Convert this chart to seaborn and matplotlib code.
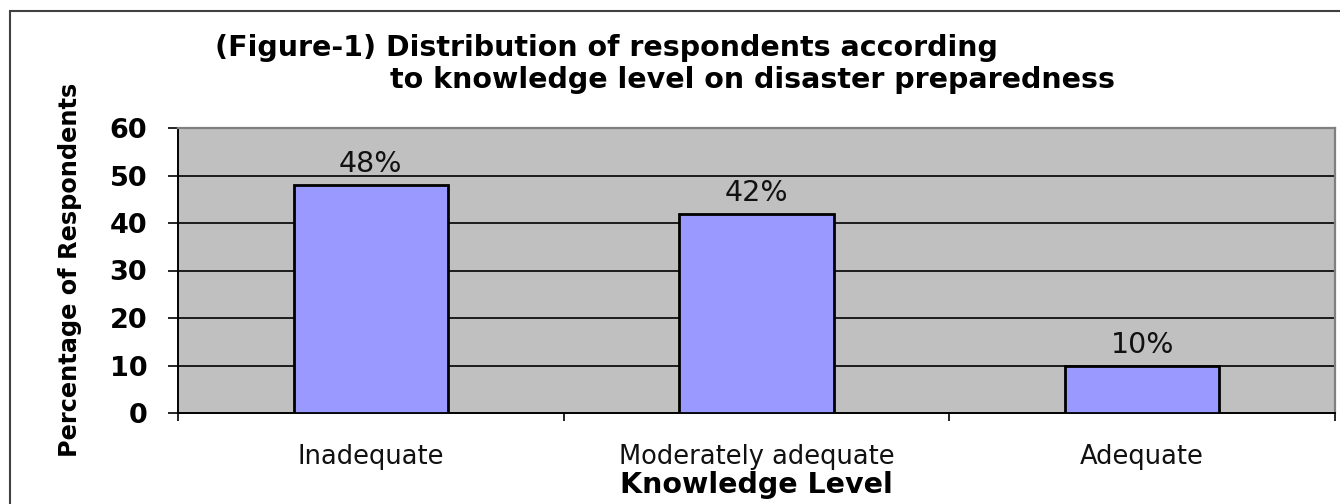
import matplotlib
matplotlib.use("Agg")
import matplotlib.pyplot as plt
import seaborn as sns
import pandas as pd
from matplotlib.patches import Rectangle

categories = ["Inadequate", "Moderately adequate", "Adequate"]
values = [48, 42, 10]
bar_labels = ["48%", "42%", "10%"]
yticks = [0, 10, 20, 30, 40, 50, 60]
title_line1 = "(Figure-1) Distribution of respondents according"
title_line2 = "to knowledge level on disaster preparedness"

sns.set_theme(style="white")
plt.rcParams['font.family'] = ['DejaVu Sans']
plt.rcParams['text.color'] = 'black'
plt.rcParams['axes.labelcolor'] = 'black'
plt.rcParams['xtick.color'] = 'black'
plt.rcParams['ytick.color'] = 'black'

W, H = 1340, 504
fig = plt.figure(figsize=(W / 100, H / 100), dpi=100)
L, R, T, B = 178, 1335, 128, 413
ax = fig.add_axes([L / W, 1 - B / H, (R - L) / W, (B - T) / H])
ax.set_facecolor('#C0C0C0')

df = pd.DataFrame({"cat": categories, "val": values})
sns.barplot(data=df, x="cat", y="val", ax=ax, width=0.4, color='#9999FF',
            edgecolor='black', linewidth=2.0, saturation=1, zorder=3)

ax.set_xlim(-0.5, 2.5)
ax.set_ylim(0, 60)
ax.set_yticks(yticks)
for y in yticks[1:-1]:
    ax.axhline(y, color='black', linewidth=1.2, zorder=1)

ax.bar_label(ax.containers[0], labels=bar_labels, padding=5, fontsize=20.5,
             color='#111111')

ax.tick_params(axis='y', which='major', direction='out', length=7.2, width=1.2,
               color='black', labelcolor='black', labelsize=19.5, pad=15, left=True)
for t in ax.get_yticklabels():
    t.set_fontweight('bold')
ax.tick_params(axis='x', which='major', length=0, labelsize=18.5, pad=22,
               labelcolor='#111111')
ax.set_xticks([-0.5, 0.5, 1.5, 2.5], minor=True)
ax.tick_params(axis='x', which='minor', direction='out', length=6, width=1.2,
               color='black', bottom=True)

for s in ['left', 'bottom']:
    ax.spines[s].set_color('black')
    ax.spines[s].set_linewidth(1.4)
for s in ['top', 'right']:
    ax.spines[s].set_color('#808080')
    ax.spines[s].set_linewidth(1.6)

ax.set_xlabel("Knowledge Level", fontsize=20.5, fontweight='bold', color='black')
ax.xaxis.label.set_va('baseline')
ax.xaxis.set_label_coords(0.5, -(493 - B) / (B - T))
ax.set_ylabel("Percentage of Respondents", fontsize=17.3, fontweight='bold',
              color='black')
ax.yaxis.label.set_va('center')
ax.yaxis.set_label_coords((70 - L) / (R - L), (B - 270) / (B - T))

fig.text(215 / W, 1 - 56 / H, title_line1, fontsize=20.5, fontweight='bold',
         ha='left', va='baseline', color='black')
fig.text(390 / W, 1 - 88 / H, title_line2, fontsize=20.5, fontweight='bold',
         ha='left', va='baseline', color='black')

fig.patches.append(Rectangle((10 / W, -0.05), 1.1, 1 - 11 / H + 0.05,
                             transform=fig.transFigure, fill=False,
                             edgecolor='#404040', linewidth=1.5))

fig.savefig("out.png", dpi=100, facecolor='white')
